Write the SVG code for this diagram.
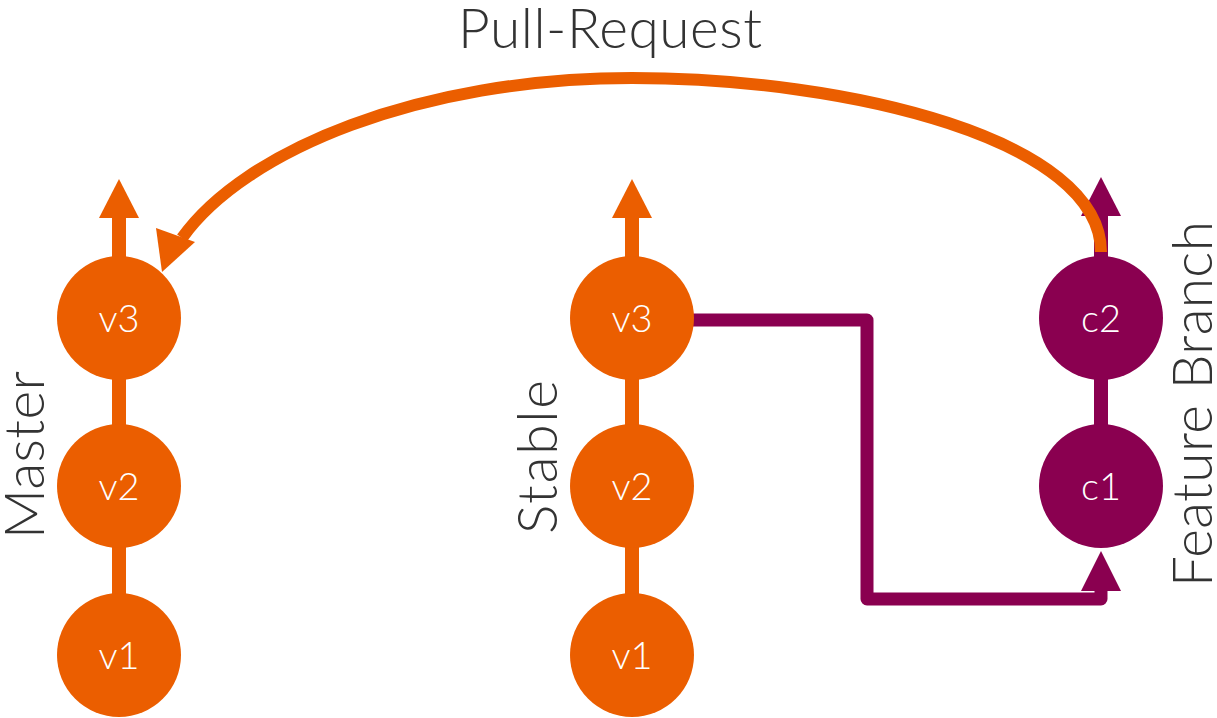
<svg xmlns="http://www.w3.org/2000/svg" width="1217" height="718" viewBox="0 0 1217 718">
<style>
.o{fill:#EB5E00}
.p{fill:#8A0050}
.lbl{font-family:Lato,"Open Sans","Liberation Sans",sans-serif;font-weight:300;fill:#333333}
.nt{font-family:Lato,"Open Sans","Liberation Sans",sans-serif;font-weight:300;fill:#ffffff;font-size:38px;text-anchor:middle}
</style>
<g id="connectors">
<!-- master -->
<rect class="o" x="112" y="214" width="14" height="50"/>
<polygon class="o" points="119,179 99,218 139,218"/>
<rect class="o" x="112" y="375" width="14" height="55"/>
<rect class="o" x="112" y="543" width="14" height="55"/>
<!-- stable -->
<rect class="o" x="625" y="214" width="14" height="50"/>
<polygon class="o" points="632,179 612,218 652,218"/>
<rect class="o" x="625" y="375" width="14" height="55"/>
<rect class="o" x="625" y="543" width="14" height="55"/>
<!-- feature -->
<rect class="p" x="1094" y="212" width="14" height="50"/>
<polygon class="p" points="1101,177 1081,216 1121,216"/>
<rect class="p" x="1094" y="375" width="14" height="55"/>
<!-- stable v3 to c1 -->
<path d="M690,320 H867 V599 H1101 V585" fill="none" stroke="#8A0050" stroke-width="13" stroke-linejoin="round"/>
<polygon class="p" points="1101,551 1081,591 1121,591"/>
<!-- pull request -->
<path d="M1101,252 C1101,140 850,78 632,78 C420,78 245,150 182,238" fill="none" stroke="#EB5E00" stroke-width="12"/>
<polygon class="o" points="162,272 156,228 195,242"/>
</g>
<g id="master-v3"><circle class="o" cx="119" cy="318" r="62"/><text class="nt" x="119" y="332">v3</text></g>
<g id="master-v2"><circle class="o" cx="119" cy="486" r="62"/><text class="nt" x="119" y="500">v2</text></g>
<g id="master-v1"><circle class="o" cx="119" cy="655" r="62"/><text class="nt" x="119" y="669">v1</text></g>
<g id="stable-v3"><circle class="o" cx="632" cy="318" r="62"/><text class="nt" x="632" y="332">v3</text></g>
<g id="stable-v2"><circle class="o" cx="632" cy="486" r="62"/><text class="nt" x="632" y="500">v2</text></g>
<g id="stable-v1"><circle class="o" cx="632" cy="655" r="62"/><text class="nt" x="632" y="669">v1</text></g>
<g id="feature-c2"><circle class="p" cx="1101" cy="318" r="62"/><text class="nt" x="1101" y="332">c2</text></g>
<g id="feature-c1"><circle class="p" cx="1101" cy="486" r="62"/><text class="nt" x="1101" y="500">c1</text></g>
<g id="labels">
<text class="lbl" x="610" y="48" font-size="55" text-anchor="middle" textLength="304" lengthAdjust="spacing">Pull-Request</text>
<text class="lbl" transform="translate(44,455) rotate(-90)" font-size="55" text-anchor="middle" textLength="168" lengthAdjust="spacing">Master</text>
<text class="lbl" transform="translate(557,457) rotate(-90)" font-size="55" text-anchor="middle" textLength="154" lengthAdjust="spacing">Stable</text>
<text class="lbl" transform="translate(1212,404) rotate(-90)" font-size="55" text-anchor="middle" textLength="366" lengthAdjust="spacing">Feature Branch</text>
</g>
</svg>
